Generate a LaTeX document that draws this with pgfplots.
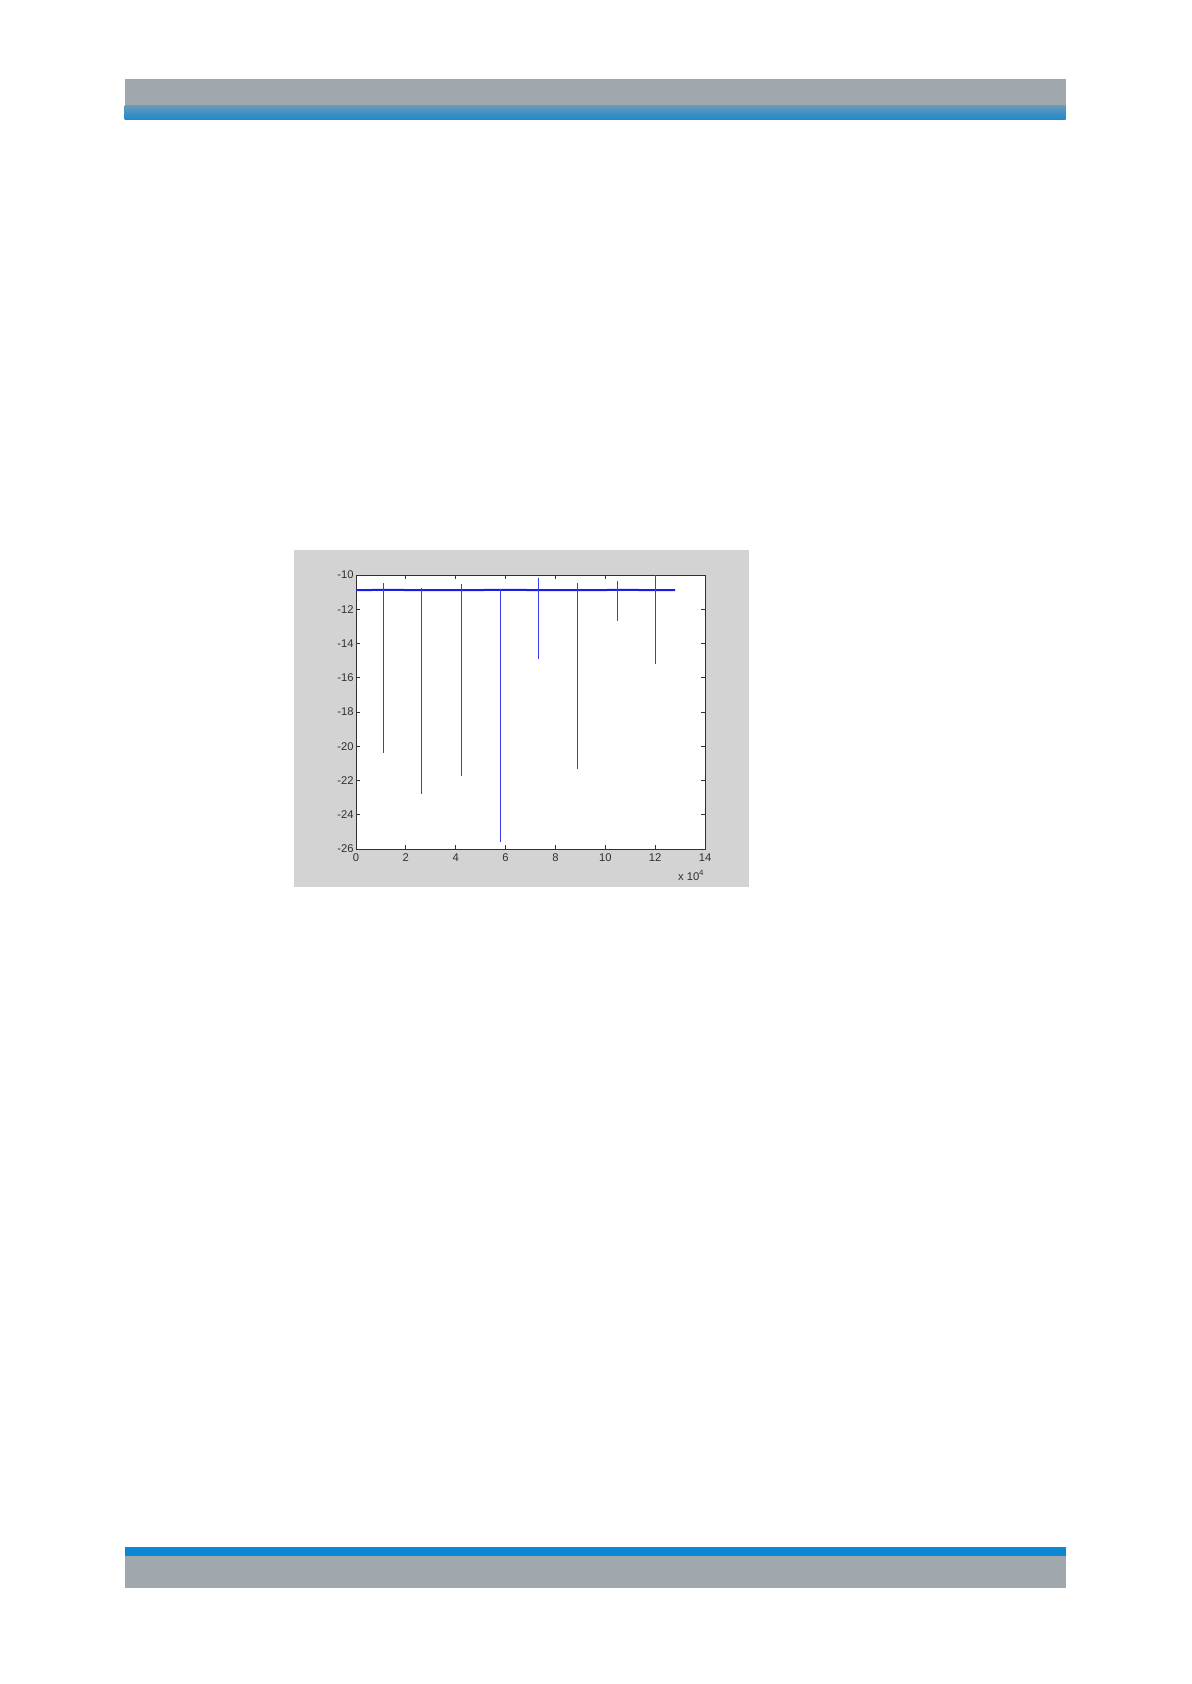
\documentclass[border=0pt]{standalone}
\usepackage{pgfplots}
\pgfplotsset{compat=1.18}
\usepackage{fontspec}
\setmainfont{Liberation Sans}
\definecolor{hdrgray}{HTML}{A0A8AD}
\definecolor{hdrblue}{HTML}{1B88CC}
\definecolor{ftrblue}{HTML}{0C88D2}
\definecolor{figgray}{HTML}{D3D3D3}
\definecolor{trace}{HTML}{1C1CE8}
\definecolor{spike}{HTML}{3A3AF0}
\definecolor{axgray}{HTML}{303030}
\begin{document}
\begin{tikzpicture}
\path[fill=white] (0,0) rectangle (595.5pt,-842pt);
% header bar
\fill[hdrgray] (62.35pt,-39.5pt) rectangle (532.85pt,-53pt);
\shade[top color=hdrgray!55!hdrblue, bottom color=hdrblue] (62.35pt,-53pt) rectangle (532.85pt,-60pt);
% footer bar
\fill[ftrblue] (62.35pt,-773.5pt) rectangle (532.85pt,-778pt);
\fill[hdrgray] (62.35pt,-778pt) rectangle (532.85pt,-794pt);
% figure panel
\fill[figgray] (147.15pt,-275pt) rectangle (374.65pt,-443.35pt);
\begin{axis}[
  at={(178pt,-424.5pt)}, anchor=south west,
  width=174.5pt, height=137pt, scale only axis,
  xmin=0, xmax=14, ymin=-26, ymax=-10,
  xtick={0,2,...,14}, ytick={-26,-24,...,-10},
  tick align=inside, xtick pos=both, ytick pos=both,
  major tick length=1.8pt,
  axis line style={axgray, line width=0.5pt},
  tick style={axgray, line width=0.5pt},
  axis background/.style={fill=white},
  font=\fontsize{5.6}{6}\selectfont,
  ticklabel style={inner sep=1pt, text=axgray},
  xticklabel style={yshift=-1.3pt},
  /pgf/number format/assume math mode=true,
  scaled ticks=false,
  clip=false,
  unbounded coords=jump,
]
% baseline trace
\addplot[trace, line width=1.0pt] coordinates {
  (0,-10.88) (1.5,-10.87) (3,-10.89) (4.5,-10.88) (6,-10.87)
  (7.5,-10.88) (9,-10.89) (10.5,-10.87) (12,-10.88) (12.8,-10.88)
};
% spikes
\addplot[spike, line width=0.5pt] coordinates {
  (1.11,-10.49) (1.11,-20.41) (nan,nan)
  (2.63,-10.74) (2.63,-22.79) (nan,nan)
  (4.24,-10.55) (4.24,-21.74) (nan,nan)
  (5.79,-10.84) (5.79,-25.60) (nan,nan)
  (7.34,-10.16) (7.34,-14.92) (nan,nan)
  (8.89,-10.49) (8.89,-21.35) (nan,nan)
  (10.47,-10.35) (10.47,-12.67) (nan,nan)
  (12.02,-10.00) (12.02,-15.20)
};
\node[anchor=base east, inner sep=0pt, yshift=-15.8pt, text=axgray,
  font=\fontsize{5.6}{6}\selectfont] at (rel axis cs:1,0) {x 10\textsuperscript{4}};
\end{axis}
\end{tikzpicture}
\end{document}
